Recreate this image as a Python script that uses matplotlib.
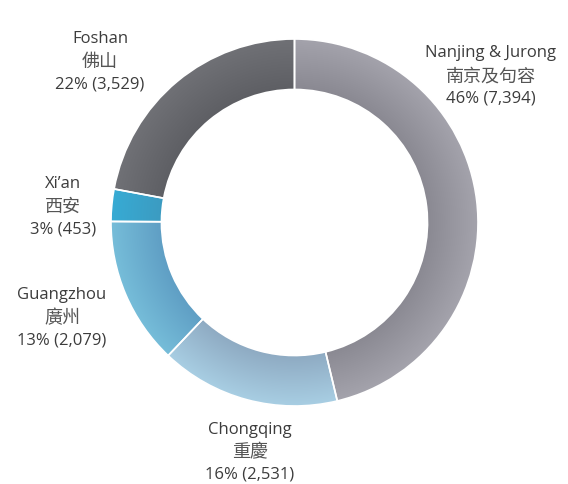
import numpy as np
import matplotlib
matplotlib.use("Agg")
import matplotlib.pyplot as plt
from matplotlib.colors import to_rgb

# ---- data ----
cities_en = ["Nanjing & Jurong", "Chongqing", "Guangzhou", "Xi\u2019an", "Foshan"]
cities_zh = ["南京及句容", "重慶", "廣州", "西安", "佛山"]
values = [7394, 2531, 2079, 453, 3529]
percents = [46, 16, 13, 3, 22]

# ---- styles ----
outer_colors = ["#a4a3ac", "#a8cee3", "#76bdd9", "#37abd4", "#707176"]
inner_colors = ["#8a8992", "#8eaac2", "#5f9ec4", "#3c9bc1", "#5e5f64"]
label_pos_px = [(491, 76), (250, 452), (62, 318), (63, 207), (100, 62)]  # pixel centres
line_gap_px = 22.5

W, H = 568, 484
cx, cy, R = 294.5, 222.5, 183.5
fig = plt.figure(figsize=(W / 100, H / 100), dpi=100)
ax = fig.add_axes([0, 0, 1, 1])

width = 0.275
wedges, _ = ax.pie(values, startangle=90, counterclock=False, radius=1.0,
                   wedgeprops=dict(width=width, edgecolor="white", linewidth=1.2,
                                   facecolor="none"),
                   center=(0, 0), frame=True)

# radial gradient fill clipped to each wedge
n = 400
xs = np.linspace(-1, 1, n)
X, Y = np.meshgrid(xs, xs[::-1])
Rr = np.sqrt(X ** 2 + Y ** 2)
t = np.clip((Rr - (1 - width)) / width, 0, 1)[..., None]
for w, oc, ic in zip(wedges, outer_colors, inner_colors):
    o = np.array(to_rgb(oc))
    i = np.array(to_rgb(ic))
    img = i + (o - i) * t
    w.set_facecolor("none")
    w.set_zorder(3)
    im = ax.imshow(img, extent=(-1, 1, -1, 1), zorder=2,
                   interpolation="bilinear", aspect="auto")
    im.set_clip_path(w)

ax.set_xlim(-cx / R, (W - cx) / R)
ax.set_ylim(-(H - cy) / R, cy / R)
ax.set_aspect("auto")
ax.axis("off")

lat = ["Open Sans", "DejaVu Sans"]
cjk = ["Noto Sans CJK TC", "DejaVu Sans"]
for en, zh, v, p, (px, py) in zip(cities_en, cities_zh, values, percents, label_pos_px):
    x = (px - cx) / R
    lines = [(en, lat, 12, "#3c3c3c"), (zh, cjk, 13.0, "#555555"),
             (f"{p}% ({v:,})", lat, 12, "#3c3c3c")]
    for k, (s, fam, fs, c) in enumerate(lines):
        y = (cy - (py + (k - 1) * line_gap_px)) / R
        ax.text(x, y, s, ha="center", va="center", fontsize=fs, color=c,
                family=fam, fontweight="normal")

fig.savefig("out.png", dpi=100, facecolor="white")
